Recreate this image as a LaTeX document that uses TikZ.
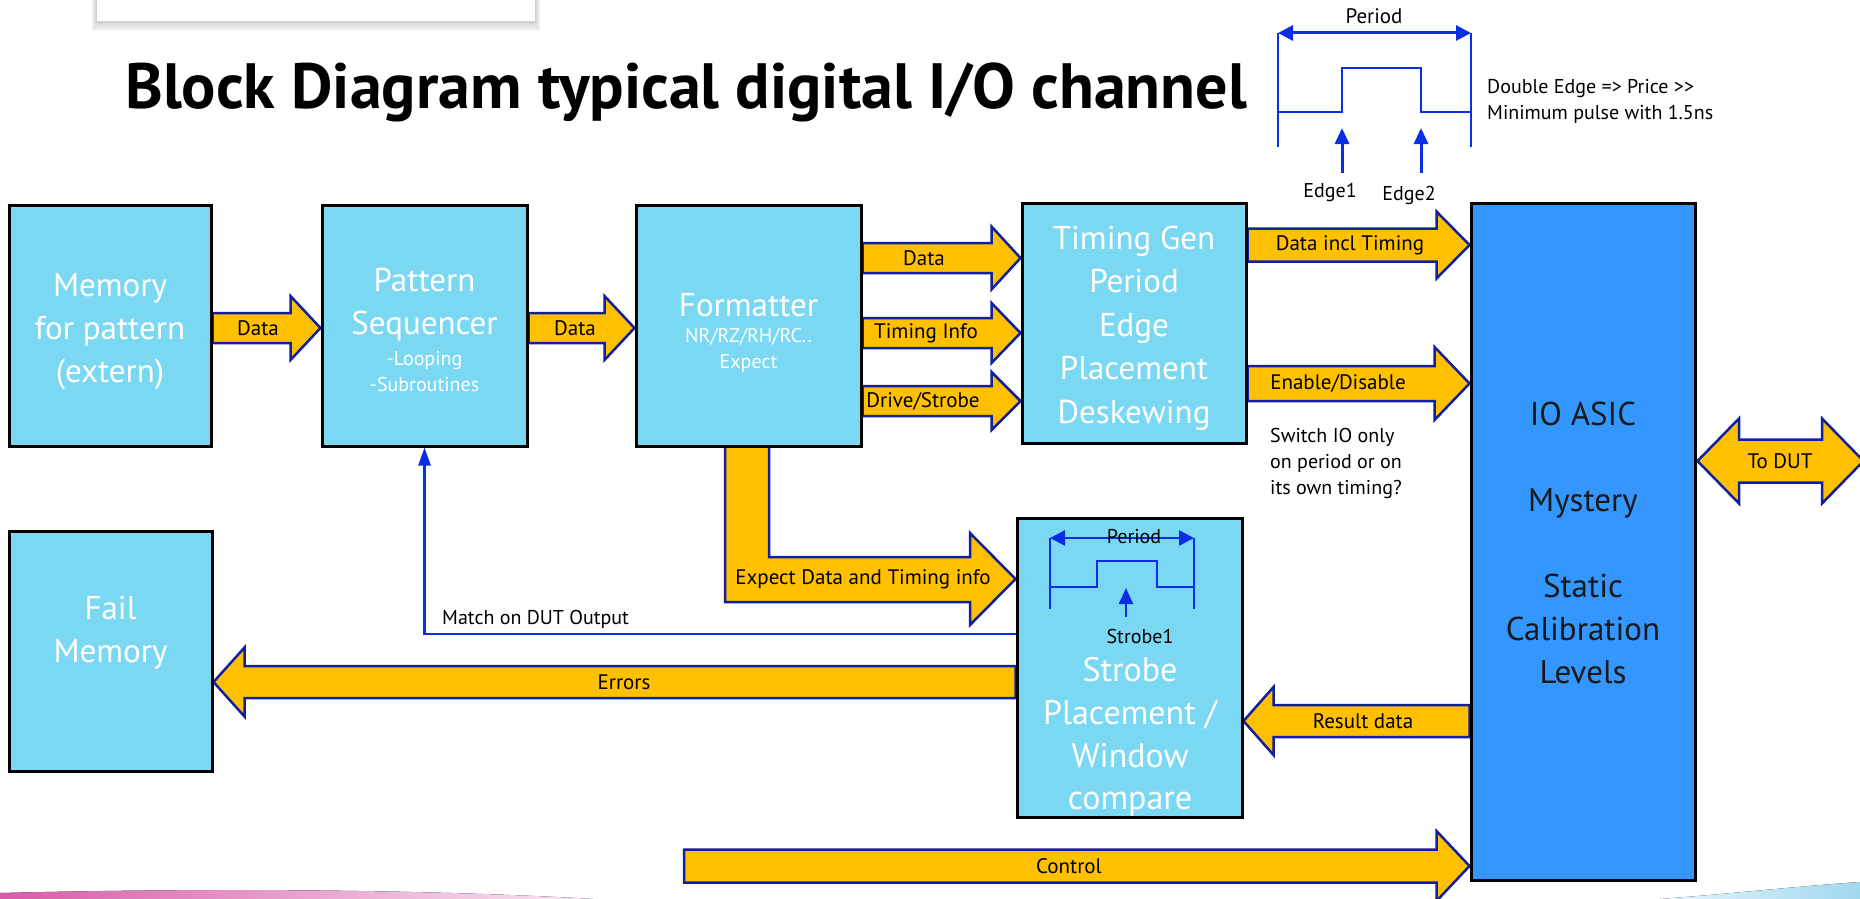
\documentclass[tikz,border=0pt]{standalone}
\usepackage{fontspec}
\setmainfont{PT Sans}
\usetikzlibrary{calc,arrows.meta}

\definecolor{boxcyan}{RGB}{123,216,243}
\definecolor{asicblue}{RGB}{51,151,255}
\definecolor{arrowyellow}{RGB}{255,192,0}
\definecolor{arrowedge}{RGB}{16,32,160}
\definecolor{lineblue}{RGB}{10,45,230}
\definecolor{ribbonpink}{RGB}{216,92,168}
\definecolor{ribbonsky}{RGB}{160,216,240}

\pgfdeclarelayer{background}
\pgfsetlayers{background,main}

\newcommand\fs[2]{\fontsize{#1}{#2}\selectfont}

\tikzset{
  box/.style={draw=black, line width=3pt, fill=boxcyan, inner sep=0pt},
  boxtxt/.style={text=white, align=center, inner sep=0pt, font=\fs{33}{43}},
  smalltxt/.style={text=white, align=center, inner sep=0pt, font=\fs{20}{26}},
  yarrow/.style={fill=arrowyellow, draw=arrowedge, line width=2.5pt, line join=miter},
  lbl/.style={inner sep=0pt, font=\fs{21}{25}},
  note/.style={inner sep=0pt, align=left, font=\fs{20}{26}},
  tline/.style={draw=lineblue, line width=2pt},
  tarrow/.style={draw=lineblue, line width=3pt, -{Triangle[length=16pt,width=14pt]}},
  period/.style={draw=lineblue, line width=3pt, {Triangle[length=15pt,width=15pt]}-{Triangle[length=15pt,width=15pt]}},
}

% block arrow pointing right: from #1 to tip #2 at height #3,
% shaft half width #4, head half width #5, head length #6
\newcommand\rarrow[6]{\draw[yarrow] let \p1=(#1), \p2=(#2) in
  (\x1,-#3pt+#4pt) -- (\x2-#6pt,-#3pt+#4pt) -- (\x2-#6pt,-#3pt+#5pt) -- (\x2,-#3pt)
  -- (\x2-#6pt,-#3pt-#5pt) -- (\x2-#6pt,-#3pt-#4pt) -- (\x1,-#3pt-#4pt) -- cycle;}
% block arrow pointing left
\newcommand\larrow[6]{\draw[yarrow] let \p1=(#1), \p2=(#2) in
  (\x1,-#3pt+#4pt) -- (\x2+#6pt,-#3pt+#4pt) -- (\x2+#6pt,-#3pt+#5pt) -- (\x2,-#3pt)
  -- (\x2+#6pt,-#3pt-#5pt) -- (\x2+#6pt,-#3pt-#4pt) -- (\x1,-#3pt-#4pt) -- cycle;}

\begin{document}
\begin{tikzpicture}[x=1pt, y=-1pt]
\useasboundingbox (0,0) rectangle (1860,899);

% slide decoration: card at the top left, ribbons along the bottom
\foreach \i in {1,...,9}
  \fill[black, opacity=0.025] (97-\i*0.6,-5) rectangle (535+\i*0.6,21+\i*1.1);
\fill[white] (97,-5) rectangle (535,21);
\fill[left color=ribbonpink, right color=ribbonpink!15] (0,899) -- (0,893)
  .. controls (200,888) and (420,889) .. (594,899) -- cycle;
\fill[left color=ribbonsky!25, right color=ribbonsky] (1660,899)
  .. controls (1740,893) and (1800,886) .. (1860,882) -- (1860,899) -- cycle;

% title
\node[anchor=base west, inner sep=0pt, font=\fs{64}{72}\bfseries] (title) at (125,108)
  {Block Diagram typical digital I/O channel};

% blocks
\node[box, minimum width=202pt, minimum height=241pt] (mem)    at (110,325.5) {};
\node[box, minimum width=205pt, minimum height=241pt] (pseq)   at (424.5,325.5) {};
\node[box, minimum width=225pt, minimum height=241pt] (fmt)    at (748.5,325.5) {};
\node[box, minimum width=224pt, minimum height=240pt] (tg)     at (1134,323) {};
\node[box, fill=asicblue, minimum width=224pt, minimum height=677pt] (asic) at (1583,541.5) {};
\node[box, minimum width=203pt, minimum height=240pt] (fail)   at (110.5,651) {};
\node[box, minimum width=225pt, minimum height=299pt] (strobe) at (1129.5,667.5) {};

% block texts
\node[boxtxt] (memtxt) at (110,332) {Memory\\for pattern\\(extern)};
\node[boxtxt] (pseqtxt) at (424.5,305) {Pattern\\Sequencer};
\node[smalltxt] (pseqsub) at (424.5,372) {-Looping\\-Subroutines};
\node[boxtxt] (fmttxt) at (748.5,305) {Formatter};
\node[smalltxt] (fmtsub) at (748.5,350) {NR/RZ/RH/RC..\\Expect};
\node[boxtxt, font=\fs{33}{43.6}] (tgtxt) at (1134,328) {Timing Gen\\Period\\Edge\\Placement\\Deskewing};
\node[boxtxt, text=black!90] (asictxt) at (1583,543)
  {IO ASIC\\[43pt]Mystery\\[43pt]Static\\Calibration\\Levels};
\node[boxtxt] (failtxt) at (110.5,633) {Fail\\Memory};
\node[boxtxt, font=\fs{34}{42.7}] (strobetxt) at (1130,737) {Strobe\\Placement /\\Window\\compare};

% period / edge sketch
\draw[period] (1278,33) -- (1471,33);
\draw[tline] (1278,33) -- (1278,147);
\draw[tline] (1471,33) -- (1471,147);
\draw[tline] (1278,112) -- (1342,112) -- (1342,68) -- (1421,68) -- (1421,112) -- (1471,112);
\draw[tarrow] (1342,173) -- (1342,128);
\draw[tarrow] (1421,173) -- (1421,128);
\node[lbl] (pertop) at (1374,16) {Period};
\node[lbl, font=\fs{20}{24}] (edge1) at (1330,192) {Edge1};
\node[lbl, font=\fs{20}{24}] (edge2) at (1409,195) {Edge2};
\node[note, anchor=west] (dbl) at (1487,101) {Double Edge => Price >{}>\\Minimum pulse with 1.5ns};

% strobe window sketch
\draw[period, line width=2.5pt] (1050,538) -- (1194,538);
\draw[tline] (1050,538) -- (1050,609);
\draw[tline] (1194,538) -- (1194,609);
\draw[tline] (1050,587) -- (1097,587) -- (1097,561) -- (1157,561) -- (1157,587) -- (1194,587);
\draw[tarrow, line width=2.5pt] (1126,617) -- (1126,588);
\node[lbl, font=\fs{20}{24}] (perstrobe) at (1134,537) {Period};
\node[lbl, font=\fs{20}{24}] (strobe1) at (1140,636) {Strobe1};

% block arrows
\begin{pgfonlayer}{background}
\rarrow{mem.east}{pseq.west}{328}{15}{32}{30}
\rarrow{pseq.east}{fmt.west}{328}{15}{32}{30}
\rarrow{fmt.east}{tg.west}{258}{15}{31.5}{29}
\rarrow{fmt.east}{tg.west}{333}{15}{30}{29}
\rarrow{fmt.east}{tg.west}{401}{15}{29}{29}
\rarrow{tg.east}{asic.west}{245}{16.5}{33.5}{33}
\rarrow{tg.east}{asic.west}{383.5}{17.5}{36.5}{35}
\larrow{asic.west}{strobe.east}{721}{16}{34}{30}
\larrow{strobe.west}{fail.east}{682}{16}{34.5}{31}
\coordinate (ctrl) at (684,866);
\rarrow{ctrl}{asic.west}{866}{16.5}{35}{33}
% expect data: down out of the formatter, then right into the strobe block
\fill[arrowyellow] (725,0 |- fmt.south) -- (725,602) -- (970,602) -- (970,625)
  -- (strobe.west |- 0,579) -- (970,533) -- (970,557) -- (769,557) -- (769,0 |- fmt.south) -- cycle;
\draw[draw=arrowedge, line width=2.5pt, line join=miter] (725,0 |- fmt.south) -- (725,602) -- (970,602) -- (970,625)
  -- (strobe.west |- 0,579) -- (970,533) -- (970,557) -- (769,557) -- (769,0 |- fmt.south);
% to the device under test
\draw[yarrow] (1697.5,461) -- (1739,418.5) -- (1739,439.5) -- (1822,439.5) -- (1822,418.5)
  -- (1863.5,461) -- (1822,503.5) -- (1822,482.5) -- (1739,482.5) -- (1739,503.5) -- cycle;
\end{pgfonlayer}

% feedback from the strobe block to the sequencer
\draw[draw=lineblue, line width=2.5pt, -{Triangle[length=18pt,width=12pt]}]
  (strobe.west |- 0,634) -- (pseq.south |- 0,634) -- (pseq.south);
\node[lbl, anchor=west, font=\fs{20}{24}] (matchlbl) at (442,619) {Match on DUT Output};

% arrow labels
\node[lbl] (l1) at (258,328) {Data};
\node[lbl] (l2) at (575,328) {Data};
\node[lbl] (l3) at (924,258) {Data};
\node[lbl] (l4) at (926,333) {Timing Info};
\node[lbl] (l5) at (923,401) {Drive/Strobe};
\node[lbl] (l6) at (1350,245) {Data incl Timing};
\node[lbl] (l7) at (1338,383) {Enable/Disable};
\node[lbl] (l8) at (1363,721) {Result data};
\node[lbl] (l9) at (624,682) {Errors};
\node[lbl] (l10) at (1069,866) {Control};
\node[lbl] (l11) at (863,579) {Expect Data and Timing info};
\node[lbl] (l12) at (1780,461) {To DUT};

\node[note, anchor=west] (switchnote) at (1270,463) {Switch IO only\\on period or on\\its own timing?};
\end{tikzpicture}
\end{document}
